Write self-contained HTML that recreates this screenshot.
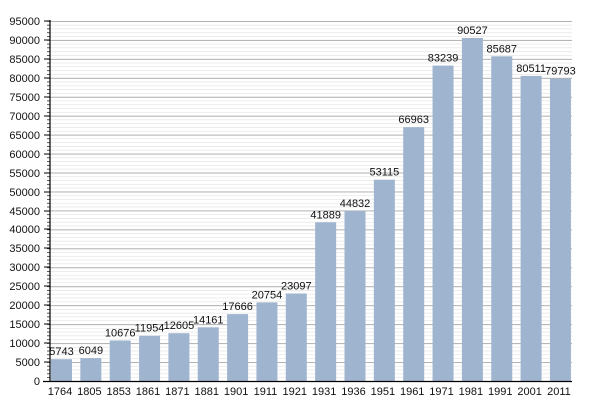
<!DOCTYPE html>
<html><head><style>html,body{margin:0;padding:0;background:#fff}svg{display:block}</style></head><body>
<svg width="600" height="400" xmlns="http://www.w3.org/2000/svg" font-family="Liberation Sans, sans-serif" font-size="11">
<defs>
<pattern id="minor" x="0" y="381" width="600" height="3.78947" patternUnits="userSpaceOnUse"><line x1="0" y1="0.25" x2="600" y2="0.25" stroke="#e0e0e0" stroke-width="0.8"/></pattern>
<pattern id="major" x="0" y="381" width="600" height="18.9474" patternUnits="userSpaceOnUse"><line x1="0" y1="0.4" x2="600" y2="0.4" stroke="#a8a8a8" stroke-width="1"/></pattern>
<pattern id="mt" x="0" y="381" width="10" height="3.78947" patternUnits="userSpaceOnUse"><line x1="0" y1="0.25" x2="10" y2="0.25" stroke="#000" stroke-width="0.8"/></pattern>
</defs>
<rect x="50" y="20.5" width="522" height="360.5" fill="url(#minor)"/>
<rect x="50" y="20.5" width="522" height="361" fill="url(#major)"/>
<rect x="47" y="20.5" width="3" height="361" fill="url(#mt)"/>
<g fill="#9fb4cf">
<rect x="51" y="359.2" width="21" height="21.8"/>
<rect x="80.35" y="358.1" width="21" height="22.9"/>
<rect x="109.7" y="340.5" width="21" height="40.5"/>
<rect x="139.05" y="335.7" width="21" height="45.3"/>
<rect x="168.4" y="333.2" width="21" height="47.8"/>
<rect x="197.75" y="327.3" width="21" height="53.7"/>
<rect x="227.1" y="314.1" width="21" height="66.9"/>
<rect x="256.45" y="302.4" width="21" height="78.6"/>
<rect x="285.8" y="293.5" width="21" height="87.5"/>
<rect x="315.15" y="222.3" width="21" height="158.7"/>
<rect x="344.5" y="211.1" width="21" height="169.9"/>
<rect x="373.85" y="179.7" width="21" height="201.3"/>
<rect x="403.2" y="127.2" width="21" height="253.8"/>
<rect x="432.55" y="65.6" width="21" height="315.4"/>
<rect x="461.9" y="38.0" width="21" height="343"/>
<rect x="491.25" y="56.3" width="21" height="324.7"/>
<rect x="520.6" y="75.9" width="21" height="305.1"/>
<rect x="549.95" y="78.6" width="21" height="302.4"/>
</g>
<line x1="50" y1="20" x2="50" y2="382" stroke="#000" stroke-width="1.2"/>
<line x1="43" y1="381.5" x2="572" y2="381.5" stroke="#000" stroke-width="1.2"/>
<g stroke="#000" stroke-width="1">
<line x1="44" y1="21" x2="50" y2="21"/><line x1="44" y1="40" x2="50" y2="40"/><line x1="44" y1="59" x2="50" y2="59"/><line x1="44" y1="78" x2="50" y2="78"/><line x1="44" y1="97" x2="50" y2="97"/><line x1="44" y1="116" x2="50" y2="116"/><line x1="44" y1="135" x2="50" y2="135"/><line x1="44" y1="154" x2="50" y2="154"/><line x1="44" y1="173" x2="50" y2="173"/><line x1="44" y1="192" x2="50" y2="192"/><line x1="44" y1="211" x2="50" y2="211"/><line x1="44" y1="229" x2="50" y2="229"/><line x1="44" y1="248" x2="50" y2="248"/><line x1="44" y1="267" x2="50" y2="267"/><line x1="44" y1="286" x2="50" y2="286"/><line x1="44" y1="305" x2="50" y2="305"/><line x1="44" y1="324" x2="50" y2="324"/><line x1="44" y1="343" x2="50" y2="343"/><line x1="44" y1="362" x2="50" y2="362"/>
</g>
<g text-anchor="end" fill="#111">
<text x="40" y="25">95000</text><text x="40" y="44">90000</text><text x="40" y="63">85000</text><text x="40" y="82">80000</text><text x="40" y="101">75000</text><text x="40" y="120">70000</text><text x="40" y="139">65000</text><text x="40" y="158">60000</text><text x="40" y="177">55000</text><text x="40" y="196">50000</text><text x="40" y="215">45000</text><text x="40" y="233">40000</text><text x="40" y="252">35000</text><text x="40" y="271">30000</text><text x="40" y="290">25000</text><text x="40" y="309">20000</text><text x="40" y="328">15000</text><text x="40" y="347">10000</text><text x="40" y="366">5000</text><text x="40" y="385">0</text>
</g>
<g text-anchor="middle" fill="#111">
<text x="61.5" y="355">5743</text><text x="90.85" y="354">6049</text><text x="120.2" y="336.5">10676</text><text x="149.55" y="331.7">11954</text><text x="178.9" y="329.2">12605</text><text x="208.25" y="323.3">14161</text><text x="237.6" y="310.1">17666</text><text x="266.95" y="298.4">20754</text><text x="296.3" y="289.5">23097</text><text x="325.65" y="218.3">41889</text><text x="355" y="207.1">44832</text><text x="384.35" y="175.7">53115</text><text x="413.7" y="123.2">66963</text><text x="443.05" y="61.6">83239</text><text x="472.4" y="34">90527</text><text x="501.75" y="52.3">85687</text><text x="531.1" y="71.9">80511</text><text x="560.45" y="74.6">79793</text>
</g>
<g text-anchor="middle" fill="#111">
<text x="60" y="395">1764</text><text x="89.35" y="395">1805</text><text x="118.7" y="395">1853</text><text x="148.05" y="395">1861</text><text x="177.4" y="395">1871</text><text x="206.75" y="395">1881</text><text x="236.1" y="395">1901</text><text x="265.45" y="395">1911</text><text x="294.8" y="395">1921</text><text x="324.15" y="395">1931</text><text x="353.5" y="395">1936</text><text x="382.85" y="395">1951</text><text x="412.2" y="395">1961</text><text x="441.55" y="395">1971</text><text x="470.9" y="395">1981</text><text x="500.25" y="395">1991</text><text x="529.6" y="395">2001</text><text x="558.95" y="395">2011</text>
</g>
</svg>
</body></html>
